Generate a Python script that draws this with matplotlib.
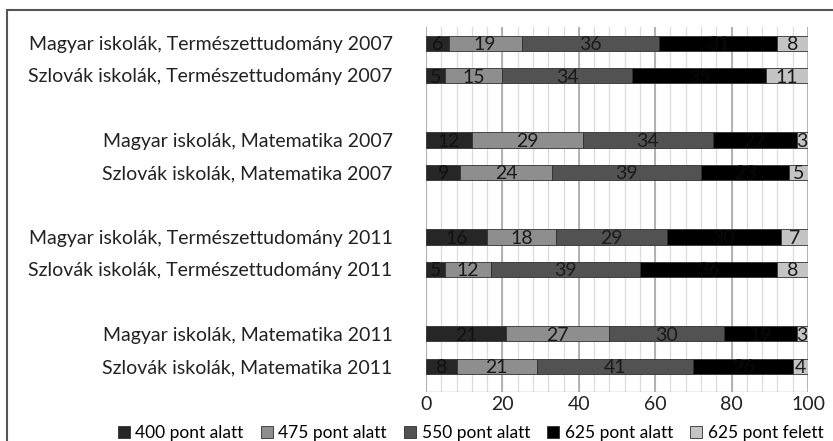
import numpy as np
import matplotlib.pyplot as plt
from matplotlib.patches import Rectangle

# categories top to bottom, blank rows separate the groups
rows = ['Magyar iskolák, Természettudomány 2007',
        'Szlovák iskolák, Természettudomány 2007',
        '',
        'Magyar iskolák, Matematika 2007',
        'Szlovák iskolák, Matematika 2007',
        '',
        'Magyar iskolák, Természettudomány 2011',
        'Szlovák iskolák, Természettudomány 2011',
        '',
        'Magyar iskolák, Matematika 2011',
        'Szlovák iskolák, Matematika 2011']

series = ['400 pont alatt', '475 pont alatt', '550 pont alatt', '625 pont alatt', '625 pont felett']
p400 = [6, 5, None, 12, 9, None, 16, 5, None, 21, 8]
p475 = [19, 15, None, 29, 24, None, 18, 12, None, 27, 21]
p550 = [36, 34, None, 34, 39, None, 29, 39, None, 30, 41]
p625a = [31, 35, None, 22, 23, None, 30, 36, None, 19, 26]
p625f = [8, 11, None, 3, 5, None, 7, 8, None, 3, 4]
xticks = [0, 20, 40, 60, 80, 100]

colors = ['#262626', '#8e8e8e', '#525252', '#000000', '#c4c4c4']
txtcol = ['#111111', '#1a1a1a', '#1a1a1a', '#0a0a0a', '#1a1a1a']

plt.rcParams['font.family'] = ['Lato', 'DejaVu Sans']
fig = plt.figure(figsize=(8.33, 4.41), dpi=100)
ax = fig.add_axes([426/833, (441-392)/441, (808-426)/833, (392-27)/441])

# grid: minor every 4, major every 20
for v in range(0, 101, 4):
    ax.axvline(v, color='#dcdcdc', lw=0.9, zorder=0)
for v in xticks:
    ax.axvline(v, color='#a8a8a8', lw=1.2, zorder=0)

idx = [i for i, r in enumerate(rows) if r]
data = [p400, p475, p550, p625a, p625f]
left = np.zeros(len(idx))
for s, vals in enumerate(data):
    w = np.array([vals[i] for i in idx], dtype=float)
    ax.barh(idx, w, left=left, height=0.47, color=colors[s], label=series[s],
            edgecolor='#303030', linewidth=0.6, zorder=2)
    for y, l, v in zip(idx, left, w):
        ax.text(l + v / 2, y + 0.05, f'{int(v)}', ha='center', va='center',
                fontsize=14, color=txtcol[s], zorder=3)
    left += w

ax.set_xlim(0, 100)
ax.set_ylim(10.8, -0.5)
ax.set_yticks(idx)
ax.set_yticklabels([rows[i] for i in idx], fontsize=14, color='#222222')
ax.set_xticks(xticks)
ax.set_xticklabels([str(t) for t in xticks], fontsize=14, color='#222222')
ax.tick_params(length=0, pad=3)
ax.tick_params(axis='y', pad=24)
for sp in ax.spines.values():
    sp.set_visible(False)
ax.axhline(10.8, color='#b0b0b0', lw=1.0)

leg = fig.legend(loc='lower center', bbox_to_anchor=(0.565, -0.035), ncol=5, frameon=False,
                 fontsize=12.5, handlelength=0.7, handleheight=0.7, handletextpad=0.3,
                 columnspacing=1.0)

fig.patches.append(Rectangle((7/833, -0.01), 1.0, (441-10)/441 + 0.01, transform=fig.transFigure,
                             fill=False, edgecolor='#555555', lw=1.5))

fig.savefig('out.png', dpi=100)
